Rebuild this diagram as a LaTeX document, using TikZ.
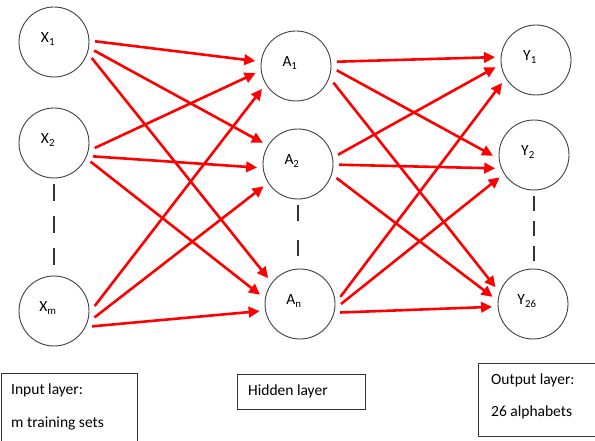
\documentclass[tikz,border=0pt]{standalone}
\usepackage{fontspec}
\setmainfont{Carlito}
\usepackage{tikz}
\usetikzlibrary{arrows.meta}

% label sits a little up and left of the circle centre
\newcommand{\unitname}[2]{\raisebox{8pt}{#1\textsubscript{#2}}\hspace*{12pt}}

\begin{document}
\begin{tikzpicture}[x=1pt,y=-1pt,
  every node/.style={font=\fontsize{15.5}{18}\selectfont},
  neuron/.style={circle, draw=black!75, line width=0.9pt, minimum size=70pt, inner sep=0pt, outer sep=6pt},
  link/.style={draw=red, line width=2.6pt, -{Triangle[length=11pt,width=10.5pt]}},
  gap/.style={draw=black!80, line width=1.3pt},
  layerbox/.style={draw=black!80, line width=0.9pt, inner sep=0pt, anchor=north west}]
\useasboundingbox (0,0) rectangle (595,441);
% input layer
\node[neuron] (X1) at (54,42) {\unitname{X}{1}};
\node[neuron] (X2) at (54,143) {\unitname{X}{2}};
\node[neuron] (Xm) at (54,311) {\unitname{X}{m}};
% hidden layer
\node[neuron] (A1) at (296,66) {\unitname{A}{1}};
\node[neuron] (A2) at (298,164) {\unitname{A}{2}};
\node[neuron] (An) at (300,304) {\unitname{A}{n}};
% output layer
\node[neuron] (Y1) at (536,60) {\unitname{Y}{1}};
\node[neuron] (Y2) at (534,155) {\unitname{Y}{2}};
\node[neuron] (Y26) at (533,304) {\unitname{Y}{26}};

\draw[gap, dash pattern=on 17pt off 15pt] (X2.south) -- (X2.south |- Xm.north);
\draw[gap, dash pattern=on 16pt off 19pt] (A2.south) -- (A2.south |- An.north);
\draw[gap, dash pattern=on 15pt off 10pt] (Y2.south) -- (Y2.south |- Y26.north);

\foreach \a/\sa/\b/\eb in {X1/1/A1/173, X1/-12/A2/149, X1/-23/An/141,
    X2/-7/A1/190, X2/-19/A2/185, X2/-27/An/167,
    Xm/7/A1/214, Xm/-9/A2/213, Xm/-22/An/190,
    A1/6/Y1/176, A1/-6/Y2/181, A1/-24/Y26/156,
    A2/13/Y1/190, A2/-1/Y2/199, A2/-20/Y26/170,
    An/10/Y1/214, An/0/Y2/213, An/-12/Y26/184}
  \draw[link] (\a.\sa) -- (\b.\eb);

% legend boxes
\node[layerbox, minimum width=136pt, minimum height=80pt] (inbox) at (1,373) {};
\node[anchor=west, inner sep=0pt] (intop) at (11,390) {Input layer:};
\node[anchor=west, inner sep=0pt] (inbot) at (11,423) {m training sets};
\node[layerbox, minimum width=128pt, minimum height=35pt] (hidbox) at (237,374) {};
\node[anchor=west, inner sep=0pt] (hidtext) at (248,391) {Hidden layer};
\node[layerbox, minimum width=130pt, minimum height=73pt] (outbox) at (478,363) {};
\node[anchor=west, inner sep=0pt] (outtop) at (491,380) {Output layer:};
\node[anchor=west, inner sep=0pt] (outbot) at (491,412) {26 alphabets};
\end{tikzpicture}
\end{document}
